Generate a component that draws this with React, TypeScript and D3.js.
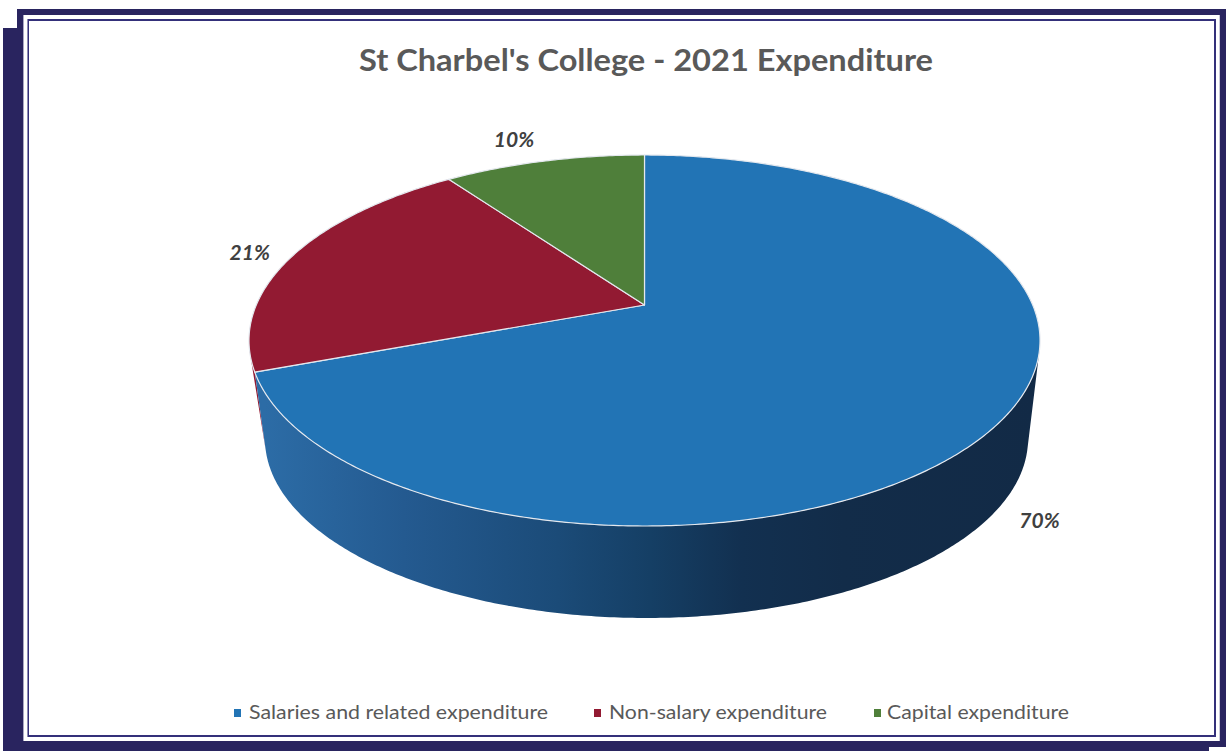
import React from "react";
import * as d3 from "d3";

const title = "St Charbel's College - 2021 Expenditure";
const categories = ["Salaries and related expenditure", "Non-salary expenditure", "Capital expenditure"];
const shares = [70, 21, 10];
const topColors = ["#2274b5", "#921a32", "#4f7f3a"];
const labelOffsets: [number, number][] = [[37, 109], [-43, 4], [-30, -14]];
const legendMarkerX = [234, 594, 874];
const legendTextX = [249, 609, 887];
const legendTextW = [299, 218, 182];
const wallStops: [number, string][] = [
  [0, "#2c6ca6"], [0.18, "#245a90"], [0.38, "#1b4b78"], [0.5, "#153f65"],
  [0.62, "#123050"], [0.75, "#122c49"], [1, "#122a46"],
];

const WIDTH = 1227;
const HEIGHT = 751;
const NAVY = "#29245f";

// Perspective projection of the unit disc onto the page.
const B = 388.2;
const A = 178.7;
const P = 0.1914;
const DEPTH_SCALE = 0.9646;

const projectTop = (a: number): [number, number] => {
  const u = Math.sin(a);
  const v = -Math.cos(a);
  const w = 1 - P * v;
  return [644.5 + (B * u) / w, 305 + (A * v) / w];
};
const projectBottom = (a: number): [number, number] => {
  const u = Math.sin(a);
  const v = -Math.cos(a);
  const w = 1 - P * v;
  return [646.5 + (DEPTH_SCALE * B * u) / w, 404.8 + (DEPTH_SCALE * A * v) / w];
};

const anglesBetween = (a0: number, a1: number) => {
  const n = Math.max(2, Math.ceil(Math.abs(a1 - a0) / 0.01));
  return d3.range(n + 1).map((i) => a0 + ((a1 - a0) * i) / n);
};

const line = d3.line<[number, number]>();
const pie = d3.pie<number>().sort(null).value((d) => d).startAngle(0).endAngle(2 * Math.PI);
const slices = pie(shares);

const wedgePath = (a0: number, a1: number) =>
  line([[644.5, 305], ...anglesBetween(a0, a1).map(projectTop)]) + "Z";

// Band between the top rim over [t0, t1] and the lower rim over [b0, b1].
const wallPath = (t0: number, t1: number, b0: number, b1: number) =>
  line([...anglesBetween(t0, t1).map(projectTop), ...anglesBetween(b1, b0).map(projectBottom)]) + "Z";

// Angles at which the side wall's straight silhouette edges touch both rims.
const SILHOUETTE_RIGHT = 1.824;
const SILHOUETTE_LEFT = 2 * Math.PI - SILHOUETTE_RIGHT;

export default function App() {
  const blue = slices[0];
  return (
    <svg
      width={WIDTH}
      height={HEIGHT}
      viewBox={`0 0 ${WIDTH} ${HEIGHT}`}
      style={{ position: "absolute", left: 0, top: 0, display: "block", background: "#fff" }}
    >
      <defs>
        <linearGradient id="wallShade" gradientUnits="userSpaceOnUse" x1={265} x2={1035} y1={0} y2={0}>
          {wallStops.map(([o, c]) => (
            <stop key={o} offset={o} stopColor={c} />
          ))}
        </linearGradient>
      </defs>

      {/* Outer frame */}
      <rect x={3} y={28} width={20} height={723} fill={NAVY} />
      <rect x={17} y={9} width={6} height={20} fill={NAVY} />
      <rect x={17} y={9} width={1209} height={6} fill={NAVY} />
      <rect x={1220} y={9} width={6} height={738} fill={NAVY} />
      <rect x={3} y={741} width={1206} height={10} fill={NAVY} />
      <rect x={1209} y={741} width={17} height={6} fill={NAVY} />
      <rect x={23} y={15} width={1} height={726} fill="#a9a7c4" />
      <rect x={1219} y={15} width={1} height={726} fill="#c9c8da" />

      {/* Inner frame */}
      <rect x={28} y={20} width={1187} height={716} fill="none" stroke="#34307a" strokeWidth={2} />
      <rect x={27} y={19} width={1} height={718} fill="#8f8db5" />

      <text
        x={646}
        y={71}
        textAnchor="middle"
        fontFamily="Lato, sans-serif"
        fontWeight={700}
        fontSize={30}
        fill="#595959"
        textLength={574}
        lengthAdjust="spacingAndGlyphs"
      >
        {title}
      </text>

      {/* Pie side wall */}
      <path d={wallPath(blue.endAngle, SILHOUETTE_LEFT, SILHOUETTE_LEFT, SILHOUETTE_LEFT)} fill="#921a32" />
      <path
        d={wallPath(SILHOUETTE_RIGHT, blue.endAngle, SILHOUETTE_RIGHT, SILHOUETTE_LEFT)}
        fill="url(#wallShade)"
      />

      {/* Pie top face */}
      {slices.map((s, i) => (
        <path
          key={categories[i]}
          d={wedgePath(s.startAngle, s.endAngle)}
          fill={topColors[i]}
          stroke="#e4e8ee"
          strokeWidth={1.2}
          strokeLinejoin="round"
        />
      ))}

      {/* Data labels */}
      {slices.map((s, i) => {
        const [x, y] = projectTop((s.startAngle + s.endAngle) / 2);
        return (
          <text
            key={i}
            x={x + labelOffsets[i][0]}
            y={y + labelOffsets[i][1]}
            textAnchor="middle"
            fontFamily="Lato, sans-serif"
            fontWeight={700}
            fontStyle="italic"
            fontSize={21}
            fill="#404040"
          >
            {shares[i]}%
          </text>
        );
      })}

      {/* Legend */}
      {categories.map((c, i) => (
        <g key={c}>
          <rect x={legendMarkerX[i]} y={709} width={7} height={8} fill={topColors[i]} />
          <text
            x={legendTextX[i]}
            y={719}
            fontFamily="Lato, sans-serif"
            fontSize={19}
            fill="#595959"
            textLength={legendTextW[i]}
            lengthAdjust="spacingAndGlyphs"
          >
            {c}
          </text>
        </g>
      ))}
    </svg>
  );
}
